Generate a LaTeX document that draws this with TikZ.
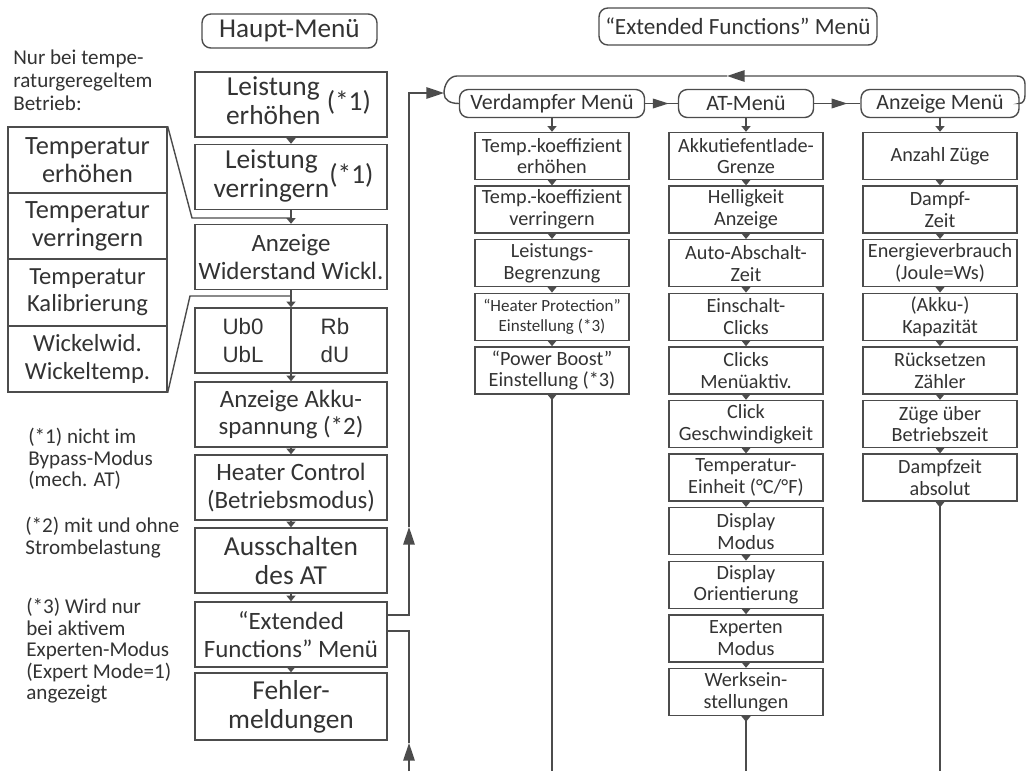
\documentclass[tikz,border=0pt]{standalone}
\usepackage{fontspec}
\setmainfont{Carlito}
\newfontfamily\ubfont{Liberation Sans}
\usetikzlibrary{calc,arrows.meta,decorations.markings}
\newcommand{\fs}[2]{\fontsize{#1}{#2}\selectfont}

\begin{document}
\begin{tikzpicture}[x=0.02cm,y=-0.02cm,
  every node/.style={text=black!80},
  box/.style={draw=black!70,line width=0.8pt,inner sep=0pt,align=center},
  mbox/.style={box,minimum width=3.84cm,minimum height=1.3cm,font=\fs{14.2}{15.5}},
  bigbox/.style={mbox,font=\fs{15.6}{16.5}},
  tbox/.style={box,minimum width=3.18cm,minimum height=1.32cm,font=\fs{15}{16}},
  sbox/.style={box,minimum width=3.08cm,minimum height=0.94cm,font=\fs{11.5}{12.4}},
  menu/.style={box,rounded corners=5pt,minimum height=0.56cm,font=\fs{12.5}{13}},
  title/.style={box,rounded corners=5pt,font=\fs{15.5}{16}},
  note/.style={anchor=north west,inner sep=0pt,align=left,font=\fs{12}{12.2}},
  conn/.style={draw=black!70,line width=0.8pt},
  arr/.style={conn,-{Triangle[width=5pt,length=3.2pt]}},
  bigarr/.style={conn,-{Triangle[width=6.5pt,length=10pt]}},
  midarr/.style={conn,postaction={decorate},decoration={markings,mark=at position 0.72 with {\arrow{Triangle[width=5.5pt,length=9pt]}}}}]
\useasboundingbox[fill=white] (0,0) rectangle (1026,771);

% Haupt-Menue
\node (hm) at (289.5,31) [title,minimum width=3.5cm,minimum height=0.68cm] {Haupt-Menü};
\node (le) at (291,104.5) [bigbox] {\hspace{0.3cm}\begin{tabular}{@{}c@{}}Leistung\\erhöhen\end{tabular} (*1)};
\node (lv) at (291,177) [bigbox] {\hspace{0.1cm}\begin{tabular}{@{}c@{}}Leistung\\verringern\end{tabular}(*1)};
\node (aw) at (291,257) [mbox] {Anzeige\\Widerstand Wickl.};
\node (ub) at (291,340.5) [mbox] {};
\node (ubl) at (243,340.5) [font=\ubfont\fs{12.7}{16},align=center] {Ub0\\UbL};
\node (ubr) at (335,340.5) [font=\ubfont\fs{12.7}{16},align=center] {Rb\\dU};
\node (ak) at (291,414.5) [mbox] {Anzeige Akku-\\spannung (*2)};
\node (hc) at (291,487.5) [mbox] {Heater Control\\(Betriebsmodus)};
\node (aus) at (291,560.5) [bigbox] {Ausschalten\\des AT};
\node (ext) at (291,634.5) [mbox] {“Extended\\Functions” Menü};
\node (fm) at (291,706.5) [bigbox,minimum height=1.34cm] {Fehler-\\meldungen};
\draw[arr] (le.south) -- (lv.north);
\draw[arr] (lv.south) -- (aw.north);
\draw[arr] (aw.south) -- (ub.north);
\draw[arr] (ub.north) -- (ak.north);
\draw[arr] (ak.south) -- (hc.north);
\draw[arr] (hc.south) -- (aus.north);
\draw[arr] (aus.south) -- (ext.north);
\draw[arr] (ext.south) -- (fm.north);

% Temperaturbetrieb
\node (te) at (87.5,160) [tbox] {Temperatur\\erhöhen};
\node (tv) at (87.5,226) [tbox] {Temperatur\\verringern};
\node (tk) at (87.5,292.5) [tbox,font=\fs{14}{15.5}] {Temperatur\\Kalibrierung};
\node (tw) at (87.5,359) [tbox,font=\fs{14}{15.5}] {Wickelwid.\\Wickeltemp.};
\coordinate (j1) at (192,218);
\coordinate (j2) at (190,296);
\draw[conn] (te.north east) -- (j1) -- (lv.south |- j1);
\draw[conn] (tw.south east) -- (j2) -- (aw.south |- j2);

\node (n0) at (13,50) [note,font=\fs{12}{13}] {Nur bei tempe-\\raturgeregeltem\\Betrieb:};
\node (n1) at (28,428) [note] {(*1) nicht im\\Bypass-Modus\\(mech. AT)};
\node (n2) at (25,517) [note] {(*2) mit und ohne\\Strombelastung};
\node (n3) at (26,598) [note] {(*3) Wird nur\\bei aktivem\\Experten-Modus\\(Expert Mode=1)\\angezeigt};

% Extended Functions
\node (ef) at (738,26.5) [title,minimum width=5.56cm,minimum height=0.74cm,font=\fs{13.2}{14}] {“Extended Functions” Menü};
\node (vm) at (552,103.5) [menu,minimum width=3.7cm] {Verdampfer Menü};
\node (am) at (746,103.5) [menu,minimum width=2.7cm] {AT-Menü};
\node (zm) at (940,103.5) [menu,minimum width=3.16cm] {Anzeige Menü};
\draw[midarr] (vm.east) -- (am.west);
\draw[midarr] (am.east) -- (zm.west);

\node (v1) at (552,156) [sbox] {Temp.-koeffizient\\erhöhen};
\node (v2) at (552,209.6) [sbox] {Temp.-koeffizient\\verringern};
\node (v3) at (552,263.2) [sbox] {Leistungs-\\Begrenzung};
\node (v4) at (552,316.8) [sbox,font=\fs{9.7}{11}] {“Heater Protection”\\Einstellung (*3)};
\node (v5) at (552,370.4) [sbox] {“Power Boost”\\Einstellung (*3)};
\draw[arr] (vm.south) -- (v1.north);
\draw[arr] (v1.south) -- (v2.north);
\draw[arr] (v2.south) -- (v3.north);
\draw[arr] (v3.south) -- (v4.north);
\draw[arr] (v4.south) -- (v5.north);

\node (a1) at (746,156) [sbox] {Akkutiefentlade-\\Grenze};
\node (a2) at (746,209.6) [sbox] {Helligkeit\\Anzeige};
\node (a3) at (746,263.2) [sbox] {Auto-Abschalt-\\Zeit};
\node (a4) at (746,316.8) [sbox] {Einschalt-\\Clicks};
\node (a5) at (746,370.4) [sbox] {Clicks\\Menüaktiv.};
\node (a6) at (746,424) [sbox] {Click\\Geschwindigkeit};
\node (a7) at (746,477.6) [sbox] {Temperatur-\\Einheit (°C/°F)};
\node (a8) at (746,531.2) [sbox] {Display\\Modus};
\node (a9) at (746,584.8) [sbox] {Display\\Orientierung};
\node (a10) at (746,638.4) [sbox] {Experten\\Modus};
\node (a11) at (746,692) [sbox] {Werksein-\\stellungen};
\draw[arr] (am.south) -- (a1.north);
\draw[arr] (a1.south) -- (a2.north);
\draw[arr] (a2.south) -- (a3.north);
\draw[arr] (a3.south) -- (a4.north);
\draw[arr] (a4.south) -- (a5.north);
\draw[arr] (a5.south) -- (a6.north);
\draw[arr] (a6.south) -- (a7.north);
\draw[arr] (a7.south) -- (a8.north);
\draw[arr] (a8.south) -- (a9.north);
\draw[arr] (a9.south) -- (a10.north);
\draw[arr] (a10.south) -- (a11.north);

\node (z1) at (940,156) [sbox] {Anzahl Züge};
\node (z2) at (940,209.6) [sbox] {Dampf-\\Zeit};
\node (z3) at (940,263.2) [sbox] {Energieverbrauch\\(Joule=Ws)};
\node (z4) at (940,316.8) [sbox] {(Akku-)\\Kapazität};
\node (z5) at (940,370.4) [sbox] {Rücksetzen\\Zähler};
\node (z6) at (940,424) [sbox] {Züge über\\Betriebszeit};
\node (z7) at (940,477.6) [sbox] {Dampfzeit\\absolut};
\draw[arr] (zm.south) -- (z1.north);
\draw[arr] (z1.south) -- (z2.north);
\draw[arr] (z2.south) -- (z3.north);
\draw[arr] (z3.south) -- (z4.north);
\draw[arr] (z4.south) -- (z5.north);
\draw[arr] (z5.south) -- (z6.north);
\draw[arr] (z6.south) -- (z7.north);

\coordinate (vb) at (552,771);
\coordinate (ab) at (746,771);
\coordinate (zb) at (940,771);
\draw[conn,{Triangle[reversed,width=5pt,length=3.2pt]}-] (v5.south) -- (vb);
\draw[conn,{Triangle[reversed,width=5pt,length=3.2pt]}-] (a11.south) -- (ab);
\draw[conn,{Triangle[reversed,width=5pt,length=3.2pt]}-] (z7.south) -- (zb);

% Schleifen
\coordinate (lt) at (727,76);
\coordinate (bt) at (444,93);
\draw[bigarr] (zm.east) -- (1019,103.5) .. controls (1023,103.5) and (1025,100) .. (1025,95) -- (1025,84) .. controls (1025,79) and (1022,76) .. (1017,76) -- (lt);
\draw[conn] (lt) -- (457,76) .. controls (449,76) and (444,85) .. (bt) .. controls (444,100) and (450,103.5) .. (vm.west);

\coordinate (x1) at (409,615);
\coordinate (u1) at (409,527);
\coordinate (x2) at (409,93);
\draw[bigarr] (ext.east |- x1) -- (x1) -- (u1);
\draw[bigarr] (u1) -- (x2) -- (bt);
\coordinate (mb) at (409,771);
\coordinate (u2) at (409,743);
\coordinate (x3) at (409,631);
\draw[bigarr] (mb) -- (u2);
\draw[conn] (u2) -- (x3) -- (ext.east |- x3);
\end{tikzpicture}
\end{document}
